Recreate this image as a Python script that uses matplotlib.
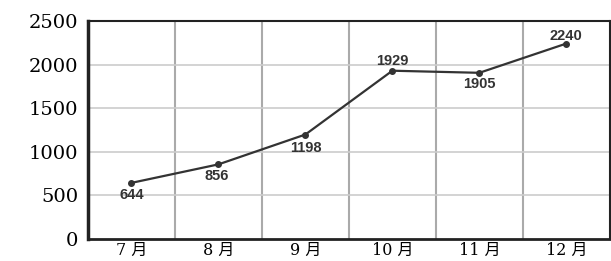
import matplotlib.pyplot as plt

months = ["7 月", "8 月", "9 月", "10 月", "11 月", "12 月"]
values = [644, 856, 1198, 1929, 1905, 2240]
yticks = [0, 500, 1000, 1500, 2000, 2500]
# label offsets in pixels (dx, dy), positive dy = up
offsets = [(0, -12), (-2, -12), (0, -13), (0, 10), (0, -11), (0, 8)]

fig = plt.figure(figsize=(6.11, 2.61), dpi=100)
ax = fig.add_axes([0.144, 0.084, 0.854, 0.836])

x = list(range(len(months)))
ax.plot(x, values, color="#333333", lw=1.6, marker="o", ms=4, zorder=3)

for xi, v, (dx, dy) in zip(x, values, offsets):
    ax.annotate(str(v), (xi, v), xytext=(dx * 0.72, dy * 0.72), textcoords="offset points",
                ha="center", va="center", fontsize=10.5, color="#333333",
                family="Liberation Sans", fontweight="bold")

ax.set_xlim(-0.5, 5.5)
ax.set_ylim(0, 2500)
ax.set_yticks(yticks)
ax.set_xticks(x)
ax.set_xticklabels(months, family=["DejaVu Serif", "Noto Sans CJK SC"], fontsize=11.5)
ax.set_yticklabels([str(t) for t in yticks], family="DejaVu Serif", fontsize=14)

for gx in [0.5, 1.5, 2.5, 3.5, 4.5]:
    ax.axvline(gx, color="#aaaaaa", lw=1.5, zorder=1)
for gy in [500, 1000, 1500, 2000]:
    ax.axhline(gy, color="#cccccc", lw=1.2, zorder=1)

ax.tick_params(length=0, pad=7)
ax.tick_params(axis="x", pad=2)
for s in ax.spines.values():
    s.set_color("#222222")
    s.set_linewidth(1.5)
ax.spines["left"].set_linewidth(2.5)
ax.spines["bottom"].set_linewidth(2)

fig.savefig("out.png", dpi=100)
